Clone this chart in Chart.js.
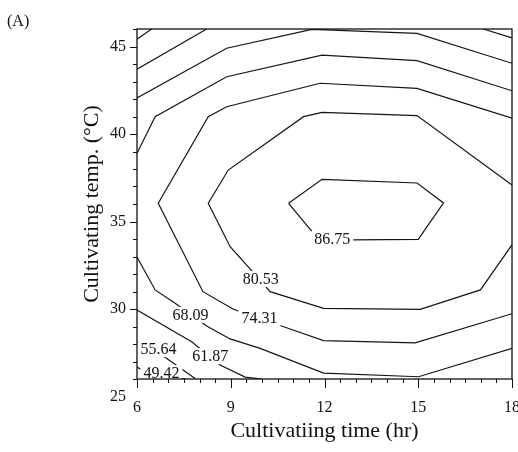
<!DOCTYPE html>
<html>
<head>
<meta charset="utf-8">
<script src="https://cdn.jsdelivr.net/npm/chart.js@4.4.1/dist/chart.umd.min.js"></script>
<style>
  html, body { margin: 0; padding: 0; background: #fff; }
  #contourChart { display: block; }
</style>
</head>
<body>
<canvas id="contourChart" width="518" height="452"></canvas>
<script>
// Axis ticks
const xTicks = [6, 9, 12, 15, 18];
const yTicks = [25, 30, 35, 40, 45];

// Contour level labels and where they sit (hr, °C)
const levelLabels = ['86.75', '80.53', '74.31', '68.09', '61.87', '55.64', '49.42'];
const labelX = [12.25, 9.96, 9.92, 7.71, 8.34, 6.69, 6.78];
const labelY = [34.0, 31.71, 29.49, 29.66, 27.31, 27.71, 26.34];

// Contour lines (x = time hr, y = temp °C)
const c8675X = [10.85, 11.92, 14.96, 15.81, 15.0, 11.83, 10.85];
const c8675Y = [36.04, 37.41, 37.2, 36.06, 33.98, 33.94, 36.04];

const c8053X = [18.0, 14.96, 11.92, 11.33, 8.92, 8.28, 8.98, 9.51, 10.26, 11.97, 15.06, 16.99, 18.0];
const c8053Y = [37.09, 41.05, 41.24, 40.99, 37.94, 36.04, 33.56, 32.51, 30.99, 30.04, 29.98, 31.09, 33.66];

const c7431X = [18.0, 14.96, 11.86, 8.87, 8.28, 6.68, 8.11, 9.07, 10.9, 11.97, 14.9, 18.0];
const c7431Y = [40.9, 42.61, 42.9, 41.56, 40.99, 36.04, 30.99, 30.0, 28.86, 28.19, 28.07, 29.73];

const c6809TopX = [18.0, 14.96, 11.92, 8.87, 6.58, 6.0];
const c6809TopY = [42.47, 44.19, 44.51, 43.27, 40.99, 38.9];
const c6809BotX = [6.0, 6.58, 7.22, 8.23, 8.98, 9.94, 11.97, 15.01, 18.0];
const c6809BotY = [32.97, 31.09, 30.33, 29.03, 28.29, 27.75, 26.34, 26.13, 27.75];

const c6187TopX = [6.0, 8.87, 11.6, 14.96, 18.0];
const c6187TopY = [42.06, 44.9, 45.98, 45.75, 44.04];
const c6187BotX = [6.0, 7.75, 8.66, 9.46, 10.0];
const c6187BotY = [29.94, 28.13, 26.8, 26.11, 26.0];

const c5564TopX = [6.0, 8.23];
const c5564TopY = [43.7, 46.0];
const c5564RightX = [17.08, 18.0];
const c5564RightY = [46.0, 45.49];
const c5564BotX = [6.0, 6.84, 7.86];
const c5564BotY = [28.14, 27.31, 26.03];

const c4942TopX = [6.0, 6.47];
const c4942TopY = [45.41, 46.0];
const c4942BotX = [6.0, 6.26, 7.57];
const c4942BotY = [26.69, 26.4, 26.0];

const contourLines = [
    [c8675X, c8675Y], [c8053X, c8053Y], [c7431X, c7431Y],
    [c6809TopX, c6809TopY], [c6809BotX, c6809BotY],
    [c6187TopX, c6187TopY], [c6187BotX, c6187BotY],
    [c5564TopX, c5564TopY], [c5564RightX, c5564RightY], [c5564BotX, c5564BotY],
    [c4942TopX, c4942TopY], [c4942BotX, c4942BotY]
];

const serif = '"Liberation Serif", "Times New Roman", serif';
Chart.defaults.font.family = serif;
Chart.defaults.color = '#111';

// Labels, frame and tick marks
const decorPlugin = {
    id: 'decor',
    afterDatasetsDraw(chart) {
        const ctx = chart.ctx;
        const a = chart.chartArea;
        const x = chart.scales.x, y = chart.scales.y;
        ctx.save();

        // contour labels knock out the line under them
        ctx.font = '16px ' + serif;
        ctx.textAlign = 'center';
        ctx.textBaseline = 'middle';
        levelLabels.forEach((t, i) => {
            const px = x.getPixelForValue(labelX[i]);
            const py = y.getPixelForValue(labelY[i]);
            const w = ctx.measureText(t).width;
            ctx.fillStyle = '#fff';
            ctx.fillRect(px - w / 2 - 3, py - 8, w + 6, 16);
            ctx.fillStyle = '#111';
            ctx.fillText(t, px, py + 1);
        });

        // frame
        ctx.strokeStyle = '#111';
        ctx.lineWidth = 1.3;
        ctx.strokeRect(a.left, a.top, a.right - a.left, a.bottom - a.top);

        // tick marks, pointing out
        ctx.lineWidth = 1;
        ctx.beginPath();
        for (let v = 6; v <= 18.001; v += 0.5) {
            const px = Math.round(x.getPixelForValue(v)) + 0.5;
            const len = xTicks.includes(v) ? 9 : 4;
            ctx.moveTo(px, a.bottom);
            ctx.lineTo(px, a.bottom + len);
        }
        for (let v = 26; v <= 46; v += 1) {
            const py = Math.round(y.getPixelForValue(v)) + 0.5;
            const len = yTicks.includes(v) ? 7 : 4;
            ctx.moveTo(a.left, py);
            ctx.lineTo(a.left - len, py);
        }
        ctx.stroke();

        // panel tag
        ctx.font = '16px ' + serif;
        ctx.textAlign = 'left';
        ctx.fillText('(A)', 7, 22);
        ctx.restore();
    }
};

const ctx = document.getElementById('contourChart').getContext('2d');
new Chart(ctx, {
    type: 'scatter',
    data: {
        datasets: contourLines.map(([xs, ys]) => ({
            data: xs.map((v, i) => ({ x: v, y: ys[i] })),
            showLine: true,
            borderColor: '#151515',
            borderWidth: 1.2,
            pointRadius: 0,
            tension: 0,
            fill: false
        }))
    },
    options: {
        responsive: false,
        animation: false,
        layout: { padding: { top: 29, right: 6, left: 0, bottom: 0 } },
        plugins: {
            legend: { display: false },
            tooltip: { enabled: false }
        },
        scales: {
            x: {
                type: 'linear',
                min: 6,
                max: 18,
                afterBuildTicks: s => { s.ticks = xTicks.map(v => ({ value: v })); },
                afterFit: s => { s.height = 73; s.paddingLeft = 0; s.paddingRight = 0; },
                grid: { display: false, drawTicks: false },
                border: { display: false },
                ticks: { font: { size: 16 }, padding: 19, maxRotation: 0, autoSkip: false },
                title: {
                    display: true,
                    text: 'Cultivatiing time (hr)',
                    font: { size: 22 },
                    padding: { top: 0, bottom: 8 }
                }
            },
            y: {
                type: 'linear',
                min: 26,
                max: 46,
                afterBuildTicks: s => { s.ticks = yTicks.map(v => ({ value: v })); },
                afterFit: s => { s.width = 137; s.paddingTop = 0; s.paddingBottom = 0; },
                grid: { display: false, drawTicks: false },
                border: { display: false },
                ticks: { font: { size: 16 }, padding: 11, autoSkip: false },
                title: {
                    display: true,
                    text: 'Cultivating temp. (°C)',
                    font: { size: 22 },
                    padding: { top: 79, bottom: 0 }
                }
            }
        }
    },
    plugins: [decorPlugin]
});
</script>
</body>
</html>
